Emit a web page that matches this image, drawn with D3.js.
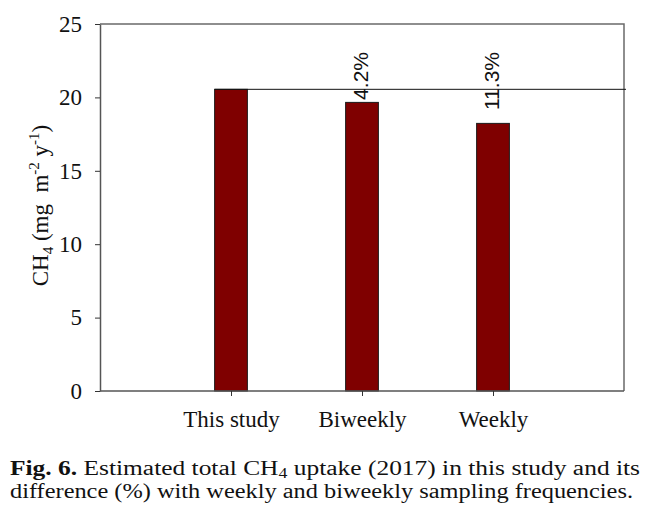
<!DOCTYPE html>
<html>
<head>
<meta charset="utf-8">
<script src="https://cdn.jsdelivr.net/npm/d3@7"></script>
<style>
html,body{margin:0;padding:0;background:#fff;}
svg{display:block;}
</style>
</head>
<body>
<svg id="chart" width="654" height="516"></svg>
<script>
const categories = ["This study", "Biweekly", "Weekly"];
const values = [20.55, 19.66, 18.23];
const pctLabels = ["", "4.2%", "11.3%"];
const yTicks = [0, 5, 10, 15, 20, 25];
const captionBold = "Fig. 6.";
const captionLine1 = " Estimated total CH";
const captionLine1b = " uptake (2017) in this study and its";
const captionLine2 = "difference (%) with weekly and biweekly sampling frequencies.";

const svg = d3.select("#chart");
const m = {left: 100, right: 624, top: 24, bottom: 391};
const serif = "'Liberation Serif','Times New Roman',serif";
const sans = "'Liberation Sans',Arial,sans-serif";

const x = d3.scalePoint().domain(categories).range([m.left, m.right]).padding(1);
const y = d3.scaleLinear().domain([0, 25]).range([m.bottom, m.top]);
const bw = x.step() * 0.25;

// frame (top and right)
svg.append("path")
  .attr("d", `M${m.left},${m.top}H${m.right}V${m.bottom}`)
  .attr("fill", "none").attr("stroke", "#6a6a6a").attr("stroke-width", 1.5);

// bars
svg.append("g").selectAll("rect").data(categories).join("rect")
  .attr("x", d => x(d) - bw / 2)
  .attr("y", (d, i) => y(values[i]))
  .attr("width", bw)
  .attr("height", (d, i) => y(0) - y(values[i]))
  .attr("fill", "#7f0000")
  .attr("stroke", "#1a1a1a").attr("stroke-width", 1);

// reference line at "This study" value
svg.append("line")
  .attr("x1", x(categories[0]) - bw / 2).attr("x2", m.right + 2)
  .attr("y1", y(values[0])).attr("y2", y(values[0]))
  .attr("stroke", "#111").attr("stroke-width", 1);

// y axis
const ya = svg.append("g").attr("transform", `translate(${m.left},0)`)
  .call(d3.axisLeft(y).tickValues(yTicks).tickSize(5).tickSizeOuter(0).tickPadding(13));
ya.select(".domain").attr("stroke", "#555").attr("stroke-width", 1.5);
ya.selectAll(".tick line").attr("stroke", "#333");
ya.selectAll(".tick text").attr("font-family", serif).attr("font-size", 23).attr("fill", "#111");

// x axis
const xa = svg.append("g").attr("transform", `translate(0,${m.bottom})`)
  .call(d3.axisBottom(x).tickSize(5).tickSizeOuter(0).tickPadding(15));
xa.select(".domain").attr("d", `M${m.left},0H${m.right}`).attr("stroke", "#555").attr("stroke-width", 1.5);
xa.selectAll(".tick line").attr("stroke", "#333");
xa.selectAll(".tick text").attr("font-family", serif).attr("font-size", 23).attr("fill", "#111");

// percent labels (rotated)
svg.append("g").selectAll("text").data(categories).join("text")
  .attr("transform", d => `translate(${x(d) + 6},${52}) rotate(-90)`)
  .attr("text-anchor", "end")
  .attr("font-family", sans).attr("font-size", 21).attr("fill", "#111")
  .text((d, i) => pctLabels[i]);

// y axis title
const yt = svg.append("text")
  .attr("transform", `translate(48,${(m.top + m.bottom) / 2 - 2}) rotate(-90)`)
  .attr("text-anchor", "middle")
  .attr("font-family", serif).attr("font-size", 23).attr("fill", "#111")
  .attr("xml:space", "preserve");
yt.append("tspan").text("CH");
yt.append("tspan").attr("font-size", 15).attr("dy", 5).text("4");
yt.append("tspan").attr("dy", -5).text(" (mg\u00a0\u00a0m");
yt.append("tspan").attr("font-size", 15).attr("dy", -9).text("-2");
yt.append("tspan").attr("dy", 9).text(" y");
yt.append("tspan").attr("font-size", 15).attr("dy", -9).text("-1");
yt.append("tspan").attr("dy", 9).text(")");

// caption
const c1 = svg.append("text").attr("x", 10).attr("y", 475)
  .attr("font-family", serif).attr("font-size", 20).attr("fill", "#111")
  .attr("xml:space", "preserve")
  .attr("textLength", 630).attr("lengthAdjust", "spacingAndGlyphs");
c1.append("tspan").attr("font-weight", "bold").text(captionBold);
c1.append("tspan").text(captionLine1);
c1.append("tspan").attr("font-size", 14).attr("dy", 3).text("4");
c1.append("tspan").attr("dy", -3).text(captionLine1b);

svg.append("text").attr("x", 10).attr("y", 498)
  .attr("font-family", serif).attr("font-size", 20).attr("fill", "#111")
  .attr("textLength", 623).attr("lengthAdjust", "spacingAndGlyphs")
  .text(captionLine2);
</script>
</body>
</html>
